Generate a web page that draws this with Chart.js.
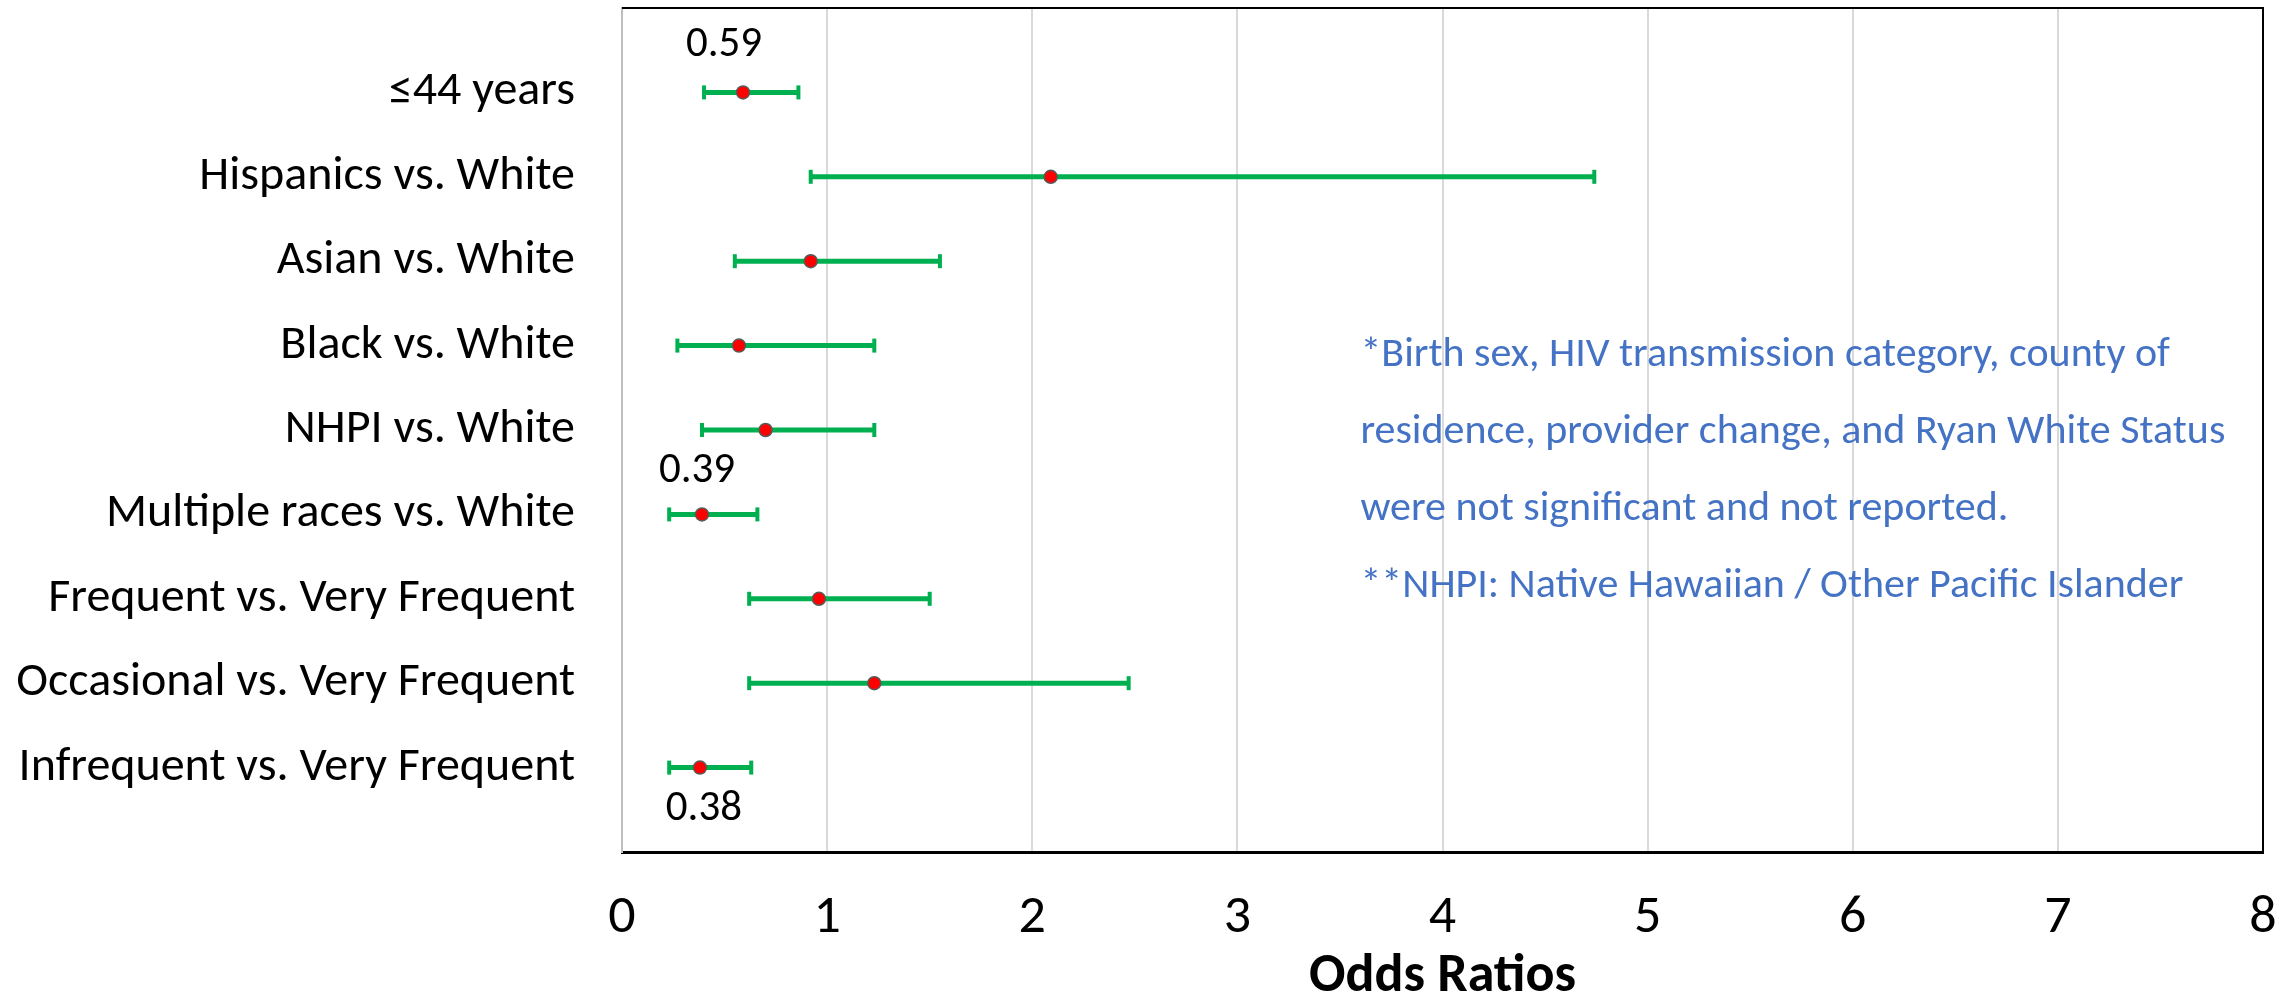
<!DOCTYPE html>
<html>
<head>
<meta charset="utf-8">
<script src="https://cdn.jsdelivr.net/npm/chart.js@4.4.1/dist/chart.umd.min.js"></script>
<style>
  html, body { margin: 0; padding: 0; background: #ffffff; }
  #wrap { width: 2295px; height: 1004px; }
</style>
</head>
<body>
<div id="wrap"><canvas id="chart"></canvas></div>
<script>
// categories, top to bottom
const categories = [
    '≤44 years',
    'Hispanics vs. White',
    'Asian vs. White',
    'Black vs. White',
    'NHPI vs. White',
    'Multiple races vs. White',
    'Frequent vs. Very Frequent',
    'Occasional vs. Very Frequent',
    'Infrequent vs. Very Frequent'
];

// odds ratios and 95% CI
const oddsRatios = [0.59, 2.09, 0.92, 0.57, 0.70, 0.39, 0.96, 1.23, 0.38];
const lowerCI    = [0.40, 0.92, 0.55, 0.27, 0.39, 0.23, 0.62, 0.62, 0.23];
const upperCI    = [0.86, 4.74, 1.55, 1.23, 1.23, 0.66, 1.50, 2.47, 0.63];

// which points get a value label
const labelledRows = [0, 5, 8];

const xTicks = [0, 1, 2, 3, 4, 5, 6, 7, 8];

const noteLines = [
    '*Birth sex, HIV transmission category, county of',
    'residence, provider change, and Ryan White Status',
    'were not significant and not reported.',
    '**NHPI: Native Hawaiian / Other Pacific Islander'
];

const FONT = "Carlito, 'Open Sans', sans-serif";

// 误差线：用坐标轴换算位置
const errorBarPlugin = {
    id: 'errorBars',
    beforeDatasetsDraw(chart) {
        const { ctx, scales: { x, y } } = chart;
        ctx.save();
        ctx.strokeStyle = '#00B050';
        ctx.fillStyle = '#00B050';
        ctx.lineWidth = 5;
        categories.forEach((c, i) => {
            const py = y.getPixelForValue(i + 1);
            const x1 = x.getPixelForValue(lowerCI[i]);
            const x2 = x.getPixelForValue(upperCI[i]);
            ctx.beginPath();
            ctx.moveTo(x1, py);
            ctx.lineTo(x2, py);
            ctx.stroke();
            ctx.fillRect(x1 - 2, py - 7, 4, 14);
            ctx.fillRect(x2 - 2, py - 7, 4, 14);
        });
        ctx.restore();
    }
};

// 数值标签（偏移量照原图）
const labelOffsets = [[-19, -47], [-5, -43], [4, 42]];
const valueLabelPlugin = {
    id: 'valueLabels',
    afterDatasetsDraw(chart) {
        const { ctx, scales: { x, y } } = chart;
        ctx.save();
        ctx.font = `43px ${FONT}`;
        ctx.fillStyle = '#000000';
        ctx.textAlign = 'center';
        ctx.textBaseline = 'middle';
        labelledRows.forEach((r, k) => {
            const px = x.getPixelForValue(oddsRatios[r]);
            const py = y.getPixelForValue(r + 1);
            const [dx, dy] = labelOffsets[k];
            ctx.fillText(oddsRatios[r].toFixed(2), px + dx, py + dy);
        });
        ctx.restore();
    }
};

// 注释文字和图框
const framePlugin = {
    id: 'frame',
    afterDraw(chart) {
        const { ctx, chartArea: a, scales: { x, y } } = chart;
        ctx.save();
        ctx.strokeStyle = '#000000';
        ctx.lineWidth = 2;
        ctx.beginPath();
        ctx.moveTo(a.left, a.top);
        ctx.lineTo(a.right, a.top);
        ctx.lineTo(a.right, a.bottom);
        ctx.stroke();

        ctx.font = `42px ${FONT}`;
        ctx.fillStyle = '#4472C4';
        ctx.textAlign = 'left';
        ctx.textBaseline = 'middle';
        const nx = x.getPixelForValue(3.6);
        const ny = y.getPixelForValue(4.12);
        noteLines.forEach((t, i) => ctx.fillText(t, nx, ny + i * 77));
        ctx.restore();
    }
};

const ctx = document.getElementById('chart').getContext('2d');
const chart = new Chart(ctx, {
    type: 'scatter',
    data: {
        datasets: [{
            label: 'Odds Ratios',
            data: oddsRatios.map((v, i) => ({ x: v, y: i + 1 })),
            backgroundColor: '#FF0000',
            borderColor: '#595959',
            borderWidth: 1.5,
            pointRadius: 6.5,
            pointHoverRadius: 6.5
        }]
    },
    options: {
        responsive: true,
        maintainAspectRatio: false,
        animation: false,
        layout: { padding: { left: 0, right: 32, top: 7, bottom: 0 } },
        scales: {
            x: {
                type: 'linear',
                min: 0,
                max: 8,
                afterBuildTicks: s => { s.ticks = xTicks.map(v => ({ value: v })); },
                afterFit: s => { s.height = 152; s.paddingLeft = 0; s.paddingRight = 0; },
                grid: { color: '#D9D9D9', lineWidth: 2, drawTicks: false },
                border: { color: '#000000', width: 3 },
                ticks: {
                    padding: 34,
                    color: '#000000',
                    font: { family: FONT, size: 54 }
                },
                title: {
                    display: true,
                    text: 'Odds Ratios',
                    color: '#000000',
                    font: { family: FONT, size: 54, weight: 'bold', lineHeight: 1 },
                    padding: { top: 0, bottom: 0 }
                }
            },
            y: {
                type: 'linear',
                min: 0,
                max: 10,
                reverse: true,
                afterBuildTicks: s => { s.ticks = categories.map((c, i) => ({ value: i + 1 })); },
                afterFit: s => { s.width = 622; s.paddingTop = 0; s.paddingBottom = 0; },
                grid: { display: false, drawTicks: false },
                border: { color: '#BFBFBF', width: 2 },
                ticks: {
                    padding: 47,
                    color: '#000000',
                    font: { family: FONT, size: 48 },
                    callback: v => categories[v - 1]
                }
            }
        },
        plugins: {
            legend: { display: false },
            tooltip: { enabled: false }
        }
    },
    plugins: [errorBarPlugin, valueLabelPlugin, framePlugin]
});
</script>
</body>
</html>
